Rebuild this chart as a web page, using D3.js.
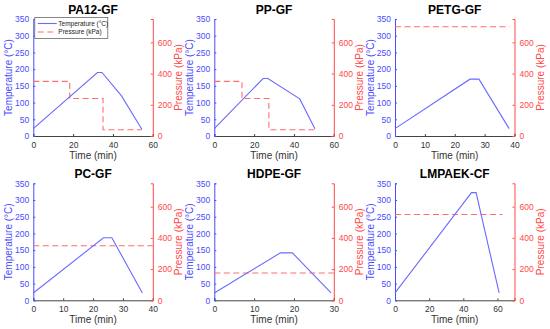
<!DOCTYPE html>
<html>
<head>
<meta charset="utf-8">
<script src="https://cdn.jsdelivr.net/npm/d3@7"></script>
<style>
  body { margin: 0; background: #fff; }
  svg { font-family: "Liberation Sans", Arial, sans-serif; }
</style>
</head>
<body>
<svg id="chart" width="550" height="329"></svg>
<script>
// one entry per panel
const titles = ["PA12-GF", "PP-GF", "PETG-GF", "PC-GF", "HDPE-GF", "LMPAEK-CF"];
const timeMax = [60, 60, 40, 40, 30, 70];
const timeTicks = [
  [0, 20, 40, 60], [0, 20, 40, 60], [0, 10, 20, 30, 40],
  [0, 10, 20, 30, 40], [0, 10, 20, 30], [0, 20, 40, 60]
];
const tempTime = [
  [0, 32.2, 34.5, 44.3, 54.5],
  [0, 24.5, 26.9, 42.9, 50.5],
  [0, 25.1, 28.1, 38.2],
  [0, 23.5, 26.3, 36.5],
  [0, 16.6, 19.6, 29.3],
  [0, 44.8, 47.5, 61]
];
const tempValue = [
  [22, 190, 190, 120, 20],
  [22, 172, 172, 111, 22],
  [22, 170, 170, 22],
  [22, 187, 187, 22],
  [22, 142, 142, 22],
  [22, 322, 322, 22]
];
// pressure as steps: value holds from this time to the next
const presTime = [
  [0, 18.3, 35, 54.5],
  [0, 13.9, 27.4, 50.5],
  [0, 38.3],
  [0, 40],
  [0, 30],
  [0, 63]
];
const presValue = [
  [350, 240, 40, 40],
  [350, 240, 40, 40],
  [700, 700],
  [350, 350],
  [175, 175],
  [550, 550]
];
const tempTicks = [0, 50, 100, 150, 200, 250, 300, 350];
const presTicks = [0, 200, 400, 600];

const blue = "#4b4bff", red = "#ff4848";
const lineBlue = "#6a6aff", lineRed = "#ff6e6e";

const svg = d3.select("#chart");
const colX = [33.3, 214.3, 395];
const rowY = [19, 183.3];
const pw = 119.5, ph = 117;

titles.forEach((title, i) => {
  const x0 = colX[i % 3], y0 = rowY[Math.floor(i / 3)];
  const g = svg.append("g").attr("transform", `translate(${x0},${y0})`);

  const x = d3.scaleLinear().domain([0, timeMax[i]]).range([0, pw]);
  const yT = d3.scaleLinear().domain([0, 350]).range([ph, 0]);
  const yP = d3.scaleLinear().domain([0, 750]).range([ph, 0]);

  // bottom axis
  const xa = g.append("g").attr("transform", `translate(0,${ph})`)
    .call(d3.axisBottom(x).tickValues(timeTicks[i]).tickSize(-2).tickPadding(6));
  xa.select(".domain").attr("stroke", "#444");
  xa.selectAll(".tick line").attr("stroke", "#444");
  xa.selectAll("text").attr("fill", "#333").attr("font-size", 8.5);

  // left axis
  const ya = g.append("g")
    .call(d3.axisLeft(yT).tickValues(tempTicks).tickSize(-2).tickPadding(4));
  ya.select(".domain").attr("stroke", blue);
  ya.selectAll(".tick line").attr("stroke", blue);
  ya.selectAll("text").attr("fill", blue).attr("font-size", 8.5);

  // right axis
  const yr = g.append("g").attr("transform", `translate(${pw},0)`)
    .call(d3.axisRight(yP).tickValues(presTicks).tickSize(-2).tickPadding(5));
  yr.select(".domain").attr("stroke", red);
  yr.selectAll(".tick line").attr("stroke", red);
  yr.selectAll("text").attr("fill", red).attr("font-size", 8.5);

  // pressure
  const pres = presTime[i].map((t, k) => [t, presValue[i][k]]);
  g.append("path")
    .datum(pres)
    .attr("fill", "none")
    .attr("stroke", lineRed)
    .attr("stroke-width", 1.1)
    .attr("stroke-dasharray", "6,3.5")
    .attr("d", d3.line().x(d => x(d[0])).y(d => yP(d[1])).curve(d3.curveStepAfter));

  // temperature
  const temp = tempTime[i].map((t, k) => [t, tempValue[i][k]]);
  g.append("path")
    .datum(temp)
    .attr("fill", "none")
    .attr("stroke", lineBlue)
    .attr("stroke-width", 1.1)
    .attr("d", d3.line().x(d => x(d[0])).y(d => yT(d[1])));

  g.append("text")
    .attr("x", pw / 2).attr("y", -5)
    .attr("text-anchor", "middle")
    .attr("font-size", 12).attr("font-weight", "bold")
    .text(title);

  g.append("text")
    .attr("x", pw / 2).attr("y", ph + 23)
    .attr("text-anchor", "middle")
    .attr("font-size", 10).attr("fill", "#333")
    .text("Time (min)");

  g.append("text")
    .attr("transform", `translate(-21,${ph / 2}) rotate(-90)`)
    .attr("text-anchor", "middle")
    .attr("font-size", 10).attr("fill", blue)
    .text("Temperature (°C)");

  g.append("text")
    .attr("transform", `translate(${pw + 29},${ph / 2}) rotate(-90)`)
    .attr("text-anchor", "middle")
    .attr("font-size", 10).attr("fill", red)
    .text("Pressure (kPa)");

  if (i === 0) {
    const lg = g.append("g").attr("transform", "translate(1.5,-1.5)");
    lg.append("rect")
      .attr("width", 73).attr("height", 21)
      .attr("fill", "#fff").attr("stroke", "#555").attr("stroke-width", 0.7);
    const items = [
      { label: "Temperature (°C)", color: lineBlue, dash: null },
      { label: "Pressure (kPa)", color: lineRed, dash: "6,3.5" }
    ];
    items.forEach((it, k) => {
      const yy = 6 + k * 8.5;
      lg.append("line")
        .attr("x1", 3).attr("x2", 22).attr("y1", yy).attr("y2", yy)
        .attr("stroke", it.color).attr("stroke-width", 1.1)
        .attr("stroke-dasharray", it.dash);
      lg.append("text")
        .attr("x", 23.5).attr("y", yy + 2.3)
        .attr("font-size", 6.5).attr("fill", "#222")
        .text(it.label);
    });
  }
});
</script>
</body>
</html>
